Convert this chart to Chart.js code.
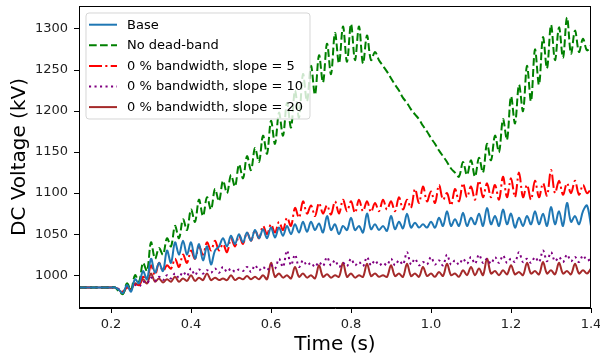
<!DOCTYPE html>
<html>
<head>
<meta charset="utf-8">
<script src="https://cdn.jsdelivr.net/npm/chart.js@4.4.1/dist/chart.umd.min.js"></script>
<style>
  html, body { margin: 0; padding: 0; background: #fff; }
  #wrap { width: 600px; height: 359px; }
</style>
</head>
<body>
<div id="wrap"><canvas id="voltageChart" width="600" height="359"></canvas></div>
<script>
// sampling grid: 0.12 s .. 1.40 s, every 10 ms
const times = Array.from({ length: 129 }, (_, i) => Math.round((0.12 + i * 0.01) * 100) / 100);

const xTicks = [0.2, 0.4, 0.6, 0.8, 1.0, 1.2, 1.4];
const yTicks = [1000, 1050, 1100, 1150, 1200, 1250, 1300];

const seriesNames = [
    'Base',
    'No dead-band',
    '0 % bandwidth, slope = 5',
    '0 % bandwidth, slope = 10',
    '0 % bandwidth, slope = 20'
];

// DC voltage in kV
const baseKv = [
    985, 985, 985, 985, 985, 985, 985, 985, 985, 985,        // 0.12 - 0.21
    982, 978, 988, 980, 995, 990, 1005, 995, 1020, 1003,     // 0.22 - 0.31
    1015, 1005, 1030, 1015, 1040, 1025, 1042, 1025, 1040, 1020,
    1038, 1018, 1035, 1013, 1030, 1035, 1045, 1035, 1048, 1038,
    1050, 1040, 1052, 1042, 1055, 1045, 1056, 1045, 1058, 1046,
    1058, 1048, 1060, 1050, 1062, 1052, 1065, 1053, 1065, 1055,
    1063, 1052, 1072, 1055, 1062, 1050, 1060, 1055, 1070, 1055,
    1060, 1052, 1075, 1056, 1062, 1055, 1060, 1054, 1072, 1056,
    1065, 1057, 1075, 1058, 1064, 1058, 1062, 1058, 1065, 1058,
    1070, 1060, 1078, 1060, 1068, 1060, 1076, 1060, 1070, 1062,
    1075, 1060, 1082, 1062, 1072, 1060, 1080, 1062, 1075, 1058,
    1070, 1060, 1072, 1062, 1078, 1062, 1075, 1060, 1083, 1062,
    1078, 1060, 1088, 1065, 1072, 1062, 1078, 1085, 1060
];

const noDeadBandKv = [
    985, 985, 985, 985, 985, 985, 985, 985, 985, 985,
    980, 977, 990, 982, 1000, 992, 1015, 1005, 1040, 1020,
    1033, 1025, 1045, 1035, 1060, 1045, 1068, 1055, 1080, 1065,
    1092, 1072, 1095, 1080, 1105, 1090, 1115, 1100, 1122, 1108,
    1135, 1118, 1145, 1128, 1155, 1138, 1170, 1148, 1188, 1160,
    1198, 1170, 1210, 1180, 1225, 1192, 1245, 1212, 1255, 1220,
    1268, 1235, 1282, 1245, 1295, 1258, 1303, 1260, 1306, 1262,
    1303, 1258, 1292, 1262, 1272, 1262, 1255, 1248, 1240, 1232,
    1225, 1216, 1210, 1202, 1196, 1190, 1182, 1175, 1167, 1160,
    1152, 1145, 1138, 1130, 1125, 1120, 1138, 1122, 1140, 1120,
    1143, 1125, 1160, 1140, 1170, 1150, 1190, 1165, 1218, 1185,
    1232, 1200, 1255, 1212, 1275, 1232, 1290, 1252, 1305, 1262,
    1302, 1265, 1314, 1270, 1298, 1272, 1288, 1274, 1280
];

const slope5Kv = [
    985, 985, 985, 985, 985, 985, 985, 985, 985, 985,
    982, 980, 985, 983, 990, 988, 998, 995, 1012, 1000,
    1015, 1005, 1012, 1008, 1020, 1010, 1025, 1015, 1030, 1020,
    1035, 1025, 1040, 1030, 1042, 1030, 1038, 1028, 1045, 1035,
    1048, 1038, 1052, 1042, 1055, 1045, 1060, 1050, 1062, 1052,
    1065, 1055, 1070, 1060, 1082, 1070, 1090, 1075, 1085, 1072,
    1088, 1075, 1085, 1074, 1090, 1075, 1092, 1078, 1090, 1076,
    1092, 1078, 1090, 1077, 1088, 1078, 1092, 1080, 1090, 1078,
    1095, 1080, 1092, 1082, 1105, 1088, 1108, 1090, 1102, 1088,
    1110, 1092, 1100, 1085, 1105, 1090, 1112, 1095, 1108, 1092,
    1115, 1095, 1112, 1095, 1110, 1092, 1120, 1095, 1118, 1095,
    1125, 1095, 1110, 1092, 1115, 1095, 1112, 1097, 1128, 1100,
    1115, 1098, 1112, 1100, 1115, 1098, 1110, 1100, 1105
];

const slope10Kv = [
    985, 985, 985, 985, 985, 985, 985, 985, 985, 985,
    983, 980, 985, 983, 988, 986, 992, 990, 997, 993,
    998, 994, 1000, 996, 1002, 997, 1004, 999, 1008, 1000,
    1007, 1002, 1006, 1003, 1008, 1003, 1010, 1004, 1008, 1004,
    1007, 1005, 1010, 1004, 1012, 1006, 1010, 1006, 1012, 1008,
    1020, 1010, 1030, 1012, 1025, 1010, 1018, 1012, 1015, 1010,
    1016, 1011, 1022, 1012, 1018, 1010, 1015, 1011, 1020, 1012,
    1016, 1011, 1022, 1012, 1018, 1012, 1015, 1012, 1020, 1012,
    1018, 1013, 1028, 1013, 1020, 1012, 1016, 1013, 1022, 1013,
    1018, 1012, 1025, 1013, 1018, 1013, 1020, 1014, 1022, 1014,
    1025, 1015, 1020, 1014, 1022, 1015, 1024, 1015, 1020, 1016,
    1028, 1016, 1020, 1015, 1022, 1016, 1030, 1017, 1028, 1017,
    1022, 1016, 1025, 1017, 1022, 1016, 1024, 1018, 1020
];

const slope20Kv = [
    985, 985, 985, 985, 985, 985, 985, 985, 985, 985,
    982, 978, 986, 983, 990, 988, 995, 990, 1002, 992,
    996, 991, 995, 992, 998, 992, 996, 993, 1000, 993,
    997, 994, 1002, 994, 997, 994, 996, 994, 1000, 994,
    997, 995, 999, 995, 998, 995, 1000, 995, 1015, 998,
    1002, 997, 1000, 996, 1010, 998, 1002, 997, 1000, 996,
    1012, 998, 1001, 997, 1000, 998, 1015, 998, 1002, 997,
    1000, 998, 1014, 999, 1002, 998, 1000, 998, 1012, 999,
    1002, 998, 1014, 999, 1002, 998, 1010, 999, 1002, 998,
    1004, 999, 1014, 1000, 1002, 998, 1006, 1000, 1010, 1000,
    1008, 1000, 1020, 1002, 1005, 1000, 1006, 1001, 1012, 1001,
    1004, 1000, 1015, 1002, 1005, 1001, 1016, 1002, 1006, 1001,
    1015, 1002, 1005, 1001, 1014, 1002, 1006, 1002, 1008
];

const seriesValues = [baseKv, noDeadBandKv, slope5Kv, slope10Kv, slope20Kv];
const seriesColors = ['#1f77b4', '#008000', '#ff0000', '#800080', '#a52a2a'];
const seriesDashes = [[], [7.7, 3.3], [13, 3.3, 2.1, 3.3], [2.1, 3.4], []];

const fontFamily = '"DejaVu Sans", Verdana, sans-serif';

// spines on all four sides, like matplotlib
const frameBox = {
    id: 'frameBox',
    afterDatasetsDraw(chart) {
        const { ctx, chartArea } = chart;
        ctx.save();
        ctx.strokeStyle = '#000';
        ctx.lineWidth = 1;
        ctx.strokeRect(chartArea.left + 0.5, chartArea.top + 0.5,
            chartArea.right - chartArea.left - 1, chartArea.bottom - chartArea.top - 1);
        ctx.restore();
    }
};

// legend drawn inside the plot, over the lines
const insideLegend = {
    id: 'insideLegend',
    afterDraw(chart) {
        const { ctx, chartArea } = chart;
        const x = chartArea.left + 7;
        const y = chartArea.top + 7;
        const w = 224, h = 106, r = 3;
        ctx.save();
        ctx.beginPath();
        ctx.moveTo(x + r, y);
        ctx.arcTo(x + w, y, x + w, y + h, r);
        ctx.arcTo(x + w, y + h, x, y + h, r);
        ctx.arcTo(x, y + h, x, y, r);
        ctx.arcTo(x, y, x + w, y, r);
        ctx.closePath();
        ctx.fillStyle = 'rgba(255,255,255,0.8)';
        ctx.fill();
        ctx.strokeStyle = 'rgba(204,204,204,0.8)';
        ctx.lineWidth = 1;
        ctx.stroke();

        ctx.font = '13px ' + fontFamily;
        ctx.textBaseline = 'middle';
        ctx.fillStyle = '#000';
        chart.data.datasets.forEach((ds, i) => {
            const rowY = y + 11.7 + i * 20.6;
            ctx.beginPath();
            ctx.setLineDash(ds.borderDash || []);
            ctx.strokeStyle = ds.borderColor;
            ctx.lineWidth = 2;
            ctx.moveTo(x + 3, rowY);
            ctx.lineTo(x + 31, rowY);
            ctx.stroke();
            ctx.setLineDash([]);
            ctx.fillText(ds.label, x + 41, rowY + 0.5);
        });
        ctx.restore();
    }
};

const ctx = document.getElementById('voltageChart').getContext('2d');
const voltageChart = new Chart(ctx, {
    type: 'line',
    data: {
        datasets: seriesNames.map((name, k) => ({
            label: name,
            data: times.map((t, i) => ({ x: t, y: seriesValues[k][i] })),
            borderColor: seriesColors[k],
            backgroundColor: seriesColors[k],
            borderDash: seriesDashes[k],
            borderWidth: 2,
            pointRadius: 0,
            tension: 0.35,
            fill: false
        }))
    },
    options: {
        responsive: false,
        animation: false,
        layout: { padding: { left: 0, top: 6, right: 9, bottom: 0 } },
        plugins: {
            legend: { display: false },
            tooltip: { enabled: false }
        },
        scales: {
            x: {
                type: 'linear',
                min: 0.12,
                max: 1.4,
                afterBuildTicks: s => { s.ticks = xTicks.map(v => ({ value: v })); },
                afterFit: s => { s.height = 51; s.paddingLeft = 0; s.paddingRight = 0; },
                grid: { display: true, drawOnChartArea: false, drawTicks: true, tickLength: 5, color: '#000' },
                border: { display: true, color: '#000', width: 1 },
                ticks: {
                    color: '#222',
                    padding: 4,
                    maxRotation: 0,
                    font: { family: fontFamily, size: 13 },
                    callback: v => v.toFixed(1)
                },
                title: {
                    display: true,
                    text: 'Time (s)',
                    color: '#000',
                    font: { family: fontFamily, size: 20, lineHeight: 1.2 },
                    padding: { top: 0, bottom: 2 }
                }
            },
            y: {
                type: 'linear',
                min: 960,
                max: 1328,
                afterBuildTicks: s => { s.ticks = yTicks.map(v => ({ value: v })); },
                afterFit: s => { s.width = 79; s.paddingTop = 0; s.paddingBottom = 0; },
                grid: { display: true, drawOnChartArea: false, drawTicks: true, tickLength: 5, color: '#000' },
                border: { display: true, color: '#000', width: 1 },
                ticks: {
                    color: '#222',
                    padding: 6,
                    font: { family: fontFamily, size: 13 },
                    callback: v => String(v)
                },
                title: {
                    display: true,
                    text: 'DC Voltage (kV)',
                    color: '#000',
                    font: { family: fontFamily, size: 20, lineHeight: 1.2 },
                    padding: { top: 8, bottom: 0 }
                }
            }
        }
    },
    plugins: [frameBox, insideLegend]
});
</script>
</body>
</html>
